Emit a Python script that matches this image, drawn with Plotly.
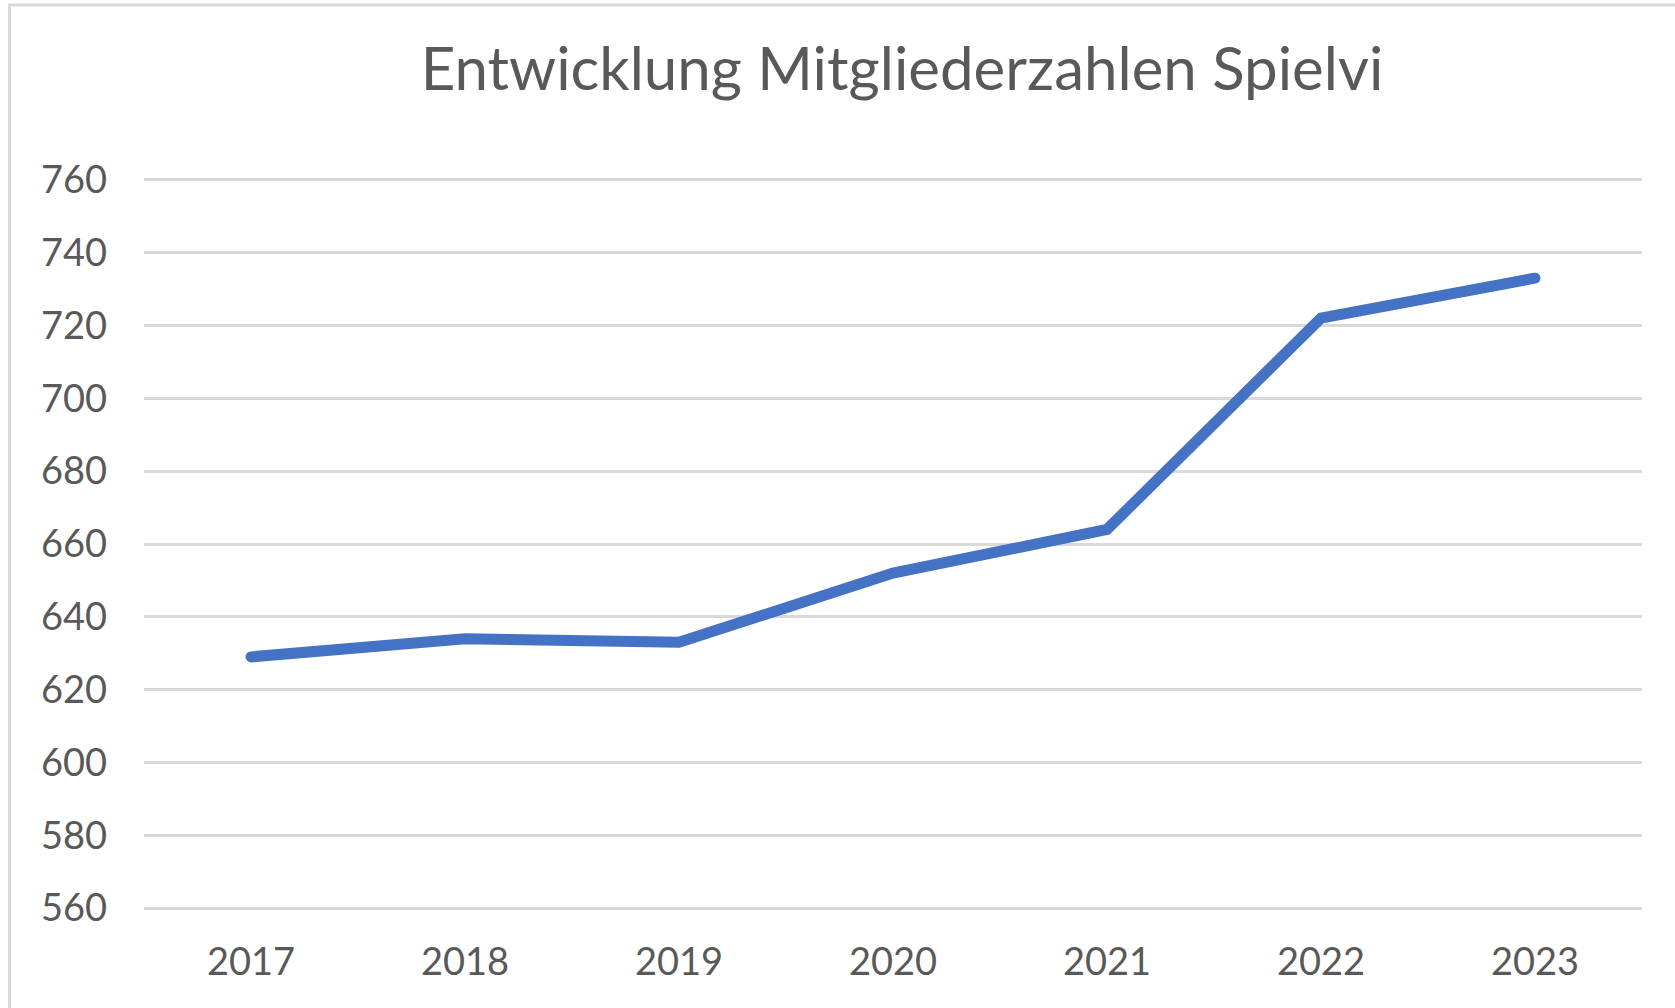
import plotly.graph_objects as go

years = ["2017", "2018", "2019", "2020", "2021", "2022", "2023"]
members = [629, 634, 633, 652, 664, 722, 733]
y_ticks = [560, 580, 600, 620, 640, 660, 680, 700, 720, 740, 760]

W, H = 1675, 1008
L, R, T, B = 144, 33, 178, 98
pw, ph = W - L - R, H - T - B

fig = go.Figure()
fig.add_trace(go.Scatter(
    x=years, y=members, mode="lines",
    line=dict(color="#4472C4", width=11, shape="linear"),
    hoverinfo="x+y", showlegend=False,
))

fig.update_layout(
    width=W, height=H,
    margin=dict(l=L, r=R, t=T, b=B, pad=0),
    paper_bgcolor="white", plot_bgcolor="white",
    font=dict(family="Lato, 'Open Sans', sans-serif", color="#595959"),
    title=dict(
        text="Entwicklung Mitgliederzahlen Spielvi",
        font=dict(size=60, color="#595959", family="Lato, sans-serif"),
        xref="paper", x=(902 - L) / pw, xanchor="center",
        yref="container", y=1 - 69 / H, yanchor="middle",
    ),
    xaxis=dict(
        type="category", range=[-0.5, 6.5],
        showgrid=False, zeroline=False, showline=False,
        ticks="", tickfont=dict(size=38, color="#595959"),
        ticklabelstandoff=26,
    ),
    yaxis=dict(
        range=[559.5, 760.5], tickvals=y_ticks,
        showgrid=True, gridcolor="#D9D9D9", gridwidth=3,
        zeroline=False, showline=False, ticks="",
        tickfont=dict(size=38, color="#595959"),
        ticklabelstandoff=36,
    ),
    shapes=[dict(
        type="rect", xref="paper", yref="paper",
        x0=(9.5 - L) / pw, x1=(W + 20 - L) / pw,
        y0=-(B + 20) / ph, y1=(H - 5 - B) / ph,
        line=dict(color="#D9D9D9", width=3), fillcolor="rgba(0,0,0,0)",
        layer="below",
    )],
)

fig.write_html(
    "out.html",
    config={"displayModeBar": False},
    post_script="document.body.style.margin='0';"
                "document.querySelectorAll('.scatterlayer path.js-line').forEach(function(p){p.style.strokeLinecap='round';});",
)
